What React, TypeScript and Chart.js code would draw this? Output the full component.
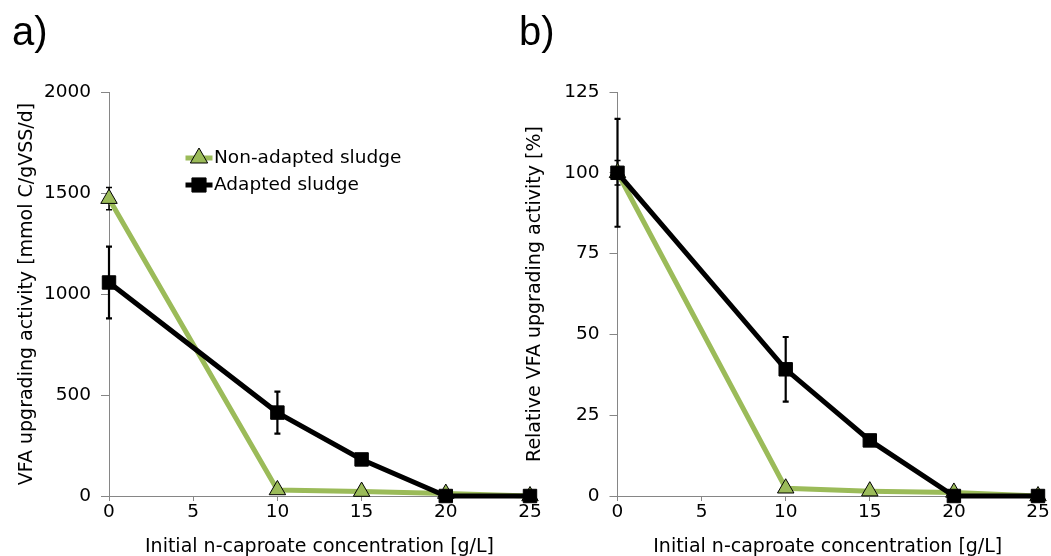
import React, { useEffect, useRef } from "react";
import { Chart, registerables } from "chart.js";
import { drawPoint } from "chart.js/helpers";

Chart.register(...registerables);

// ---- data ----
const concentrations = [0, 10, 15, 20, 25];
const seriesLabels = ["Non-adapted sludge", "Adapted sludge"];
const xAxisTitle = "Initial n-caproate concentration [g/L]";

// panel a) absolute activity
const nonAdaptedActivity = [1472, 30, 22, 12, 0];
const nonAdaptedActivityErr = [55, 0, 0, 0, 0];
const adaptedActivity = [1057, 413, 181, 0, 0];
const adaptedActivityErr = [178, 104, 0, 0, 0];
const yTitleA = "VFA upgrading activity [mmol C/gVSS/d]";
const yMaxA = 2000;
const yStepA = 500;

// panel b) relative activity
const nonAdaptedRelative = [100, 2.4, 1.5, 1.1, 0];
const nonAdaptedRelativeErr = [3.8, 0, 0, 0, 0];
const adaptedRelative = [100, 39.2, 17.2, 0, 0];
const adaptedRelativeErr = [16.7, 10, 0, 0, 0];
const yTitleB = "Relative VFA upgrading activity [%]";
const yMaxB = 125;
const yStepB = 25;

const xMax = 25;
const xStep = 5;

// ---- styles ----
const FONT = "'DejaVu Sans', Verdana, sans-serif";
const GREEN = "#9BBB59";
const AXIS_GREY = "#868686";

const errorBarPlugin = {
  id: "errorBars",
  beforeDatasetsDraw(chart: any) {
    const ctx = chart.ctx;
    const yScale = chart.scales.y;
    chart.data.datasets.forEach((ds: any, i: number) => {
      const errs: number[] | undefined = ds.errorValues;
      if (!errs) return;
      const meta = chart.getDatasetMeta(i);
      ctx.save();
      ctx.strokeStyle = "#000";
      ctx.lineWidth = ds.errorBarWidth || 1.5;
      meta.data.forEach((pt: any, j: number) => {
        const e = errs[j];
        if (!e) return;
        const v = ds.data[j].y;
        const top = yScale.getPixelForValue(v + e);
        const bot = yScale.getPixelForValue(v - e);
        const cap = 3;
        ctx.beginPath();
        ctx.moveTo(pt.x, top);
        ctx.lineTo(pt.x, bot);
        ctx.moveTo(pt.x - cap, top);
        ctx.lineTo(pt.x + cap, top);
        ctx.moveTo(pt.x - cap, bot);
        ctx.lineTo(pt.x + cap, bot);
        ctx.stroke();
      });
      ctx.restore();
    });
  },
};

const insideLegendPlugin = {
  id: "insideLegend",
  afterDatasetsDraw(chart: any, _args: any, opts: any) {
    if (!opts || !opts.display) return;
    const ctx = chart.ctx;
    chart.data.datasets.forEach((ds: any, i: number) => {
      const y = opts.y + i * opts.rowGap;
      const x0 = opts.x;
      ctx.save();
      ctx.strokeStyle = ds.borderColor;
      ctx.lineWidth = ds.borderWidth;
      ctx.beginPath();
      ctx.moveTo(x0, y);
      ctx.lineTo(x0 + opts.lineLength, y);
      ctx.stroke();
      ctx.fillStyle = ds.pointBackgroundColor;
      ctx.strokeStyle = ds.pointBorderColor;
      ctx.lineWidth = ds.pointBorderWidth;
      drawPoint(
        ctx,
        {
          pointStyle: ds.pointStyle,
          radius: opts.markerRadius,
          rotation: 0,
          borderWidth: ds.pointBorderWidth,
        } as any,
        x0 + opts.lineLength / 2,
        y
      );
      ctx.fillStyle = "#000";
      ctx.font = `${opts.fontSize}px ${FONT}`;
      ctx.textBaseline = "middle";
      ctx.textAlign = "left";
      ctx.fillText(ds.label, x0 + opts.lineLength + 1.5, y);
      ctx.restore();
    });
  },
};

function toPoints(vals: number[]) {
  return concentrations.map((c, i) => ({ x: c, y: vals[i] }));
}

function buildConfig(p: {
  nonAdapted: number[];
  nonAdaptedErr: number[];
  adapted: number[];
  adaptedErr: number[];
  yMax: number;
  yStep: number;
  yTitle: string;
  yWidth: number;
  yTitlePad: number;
  padRight: number;
  showLegend: boolean;
}): any {
  const tickFont = { family: FONT, size: 18.5 };
  const titleFont = { family: FONT, size: 19 };
  return {
    type: "line",
    data: {
      datasets: [
        {
          label: seriesLabels[0],
          data: toPoints(p.nonAdapted),
          errorValues: p.nonAdaptedErr,
          errorBarWidth: 1.5,
          borderColor: GREEN,
          borderWidth: 5,
          pointStyle: "triangle",
          pointRadius: 9.5,
          pointBackgroundColor: GREEN,
          pointBorderColor: "#000",
          pointBorderWidth: 1,
          tension: 0,
          clip: false,
          order: 1,
        },
        {
          label: seriesLabels[1],
          data: toPoints(p.adapted),
          errorValues: p.adaptedErr,
          errorBarWidth: 2.2,
          borderColor: "#000",
          borderWidth: 5,
          pointStyle: "rect",
          pointRadius: 9.5,
          pointBackgroundColor: "#000",
          pointBorderColor: "#000",
          pointBorderWidth: 1,
          tension: 0,
          clip: false,
          order: 0,
        },
      ],
    },
    options: {
      animation: false,
      responsive: false,
      devicePixelRatio: 1,
      events: [],
      layout: { padding: { top: 92, right: p.padRight, left: 0, bottom: 0 } },
      plugins: {
        legend: { display: false },
        tooltip: { enabled: false },
        insideLegend: {
          display: p.showLegend,
          x: 185.5,
          y: 158,
          rowGap: 27,
          lineLength: 27,
          markerRadius: 10,
          fontSize: 18.5,
        },
      },
      scales: {
        x: {
          type: "linear",
          min: 0,
          max: xMax,
          afterFit: (s: any) => {
            s.height = 60;
          },
          ticks: {
            stepSize: xStep,
            color: "#000",
            font: tickFont,
            padding: 0,
            maxRotation: 0,
            callback: (v: any) => String(v),
          },
          grid: {
            display: true,
            drawOnChartArea: false,
            drawTicks: true,
            tickLength: 5,
            color: AXIS_GREY,
          },
          border: { display: true, color: AXIS_GREY, width: 1 },
          title: {
            display: true,
            text: xAxisTitle,
            color: "#000",
            font: titleFont,
            padding: { top: 0, bottom: -2 },
          },
        },
        y: {
          type: "linear",
          min: 0,
          max: p.yMax,
          afterFit: (s: any) => {
            s.width = p.yWidth;
          },
          ticks: {
            stepSize: p.yStep,
            color: "#000",
            font: tickFont,
            padding: 10,
            callback: (v: any) => String(v),
          },
          grid: {
            display: true,
            drawOnChartArea: false,
            drawTicks: true,
            tickLength: 8,
            color: AXIS_GREY,
          },
          border: { display: true, color: AXIS_GREY, width: 1 },
          title: {
            display: true,
            text: p.yTitle,
            color: "#000",
            font: titleFont,
            padding: { top: p.yTitlePad, bottom: 0 },
          },
        },
      },
    },
    plugins: [errorBarPlugin, insideLegendPlugin],
  };
}

const panelLabelStyle = (left: number): React.CSSProperties => ({
  position: "absolute",
  left,
  top: 10.5,
  fontFamily: "'Liberation Sans', Arial, sans-serif",
  fontSize: 40,
  lineHeight: "40px",
  color: "#000",
  whiteSpace: "nowrap",
});

export default function App() {
  const refA = useRef<HTMLCanvasElement>(null);
  const refB = useRef<HTMLCanvasElement>(null);

  useEffect(() => {
    Chart.defaults.font.family = FONT;
    const a = new Chart(
      refA.current as HTMLCanvasElement,
      buildConfig({
        nonAdapted: nonAdaptedActivity,
        nonAdaptedErr: nonAdaptedActivityErr,
        adapted: adaptedActivity,
        adaptedErr: adaptedActivityErr,
        yMax: yMaxA,
        yStep: yStepA,
        yTitle: yTitleA,
        yWidth: 109,
        yTitlePad: 16,
        padRight: 15,
        showLegend: true,
      })
    );
    const b = new Chart(
      refB.current as HTMLCanvasElement,
      buildConfig({
        nonAdapted: nonAdaptedRelative,
        nonAdaptedErr: nonAdaptedRelativeErr,
        adapted: adaptedRelative,
        adaptedErr: adaptedRelativeErr,
        yMax: yMaxB,
        yStep: yStepB,
        yTitle: yTitleB,
        yWidth: 102.5,
        yTitlePad: 9,
        padRight: 13,
        showLegend: false,
      })
    );
    return () => {
      a.destroy();
      b.destroy();
    };
  }, []);

  return (
    <div
      style={{
        position: "absolute",
        left: 0,
        top: 0,
        width: 1051,
        height: 556,
        overflow: "hidden",
        background: "#fff",
      }}
    >
      <canvas
        ref={refA}
        width={545}
        height={556}
        style={{ position: "absolute", left: 0, top: 0 }}
      />
      <canvas
        ref={refB}
        width={536}
        height={556}
        style={{ position: "absolute", left: 515, top: 0 }}
      />
      <div style={panelLabelStyle(12)}>a)</div>
      <div style={panelLabelStyle(519)}>b)</div>
    </div>
  );
}
